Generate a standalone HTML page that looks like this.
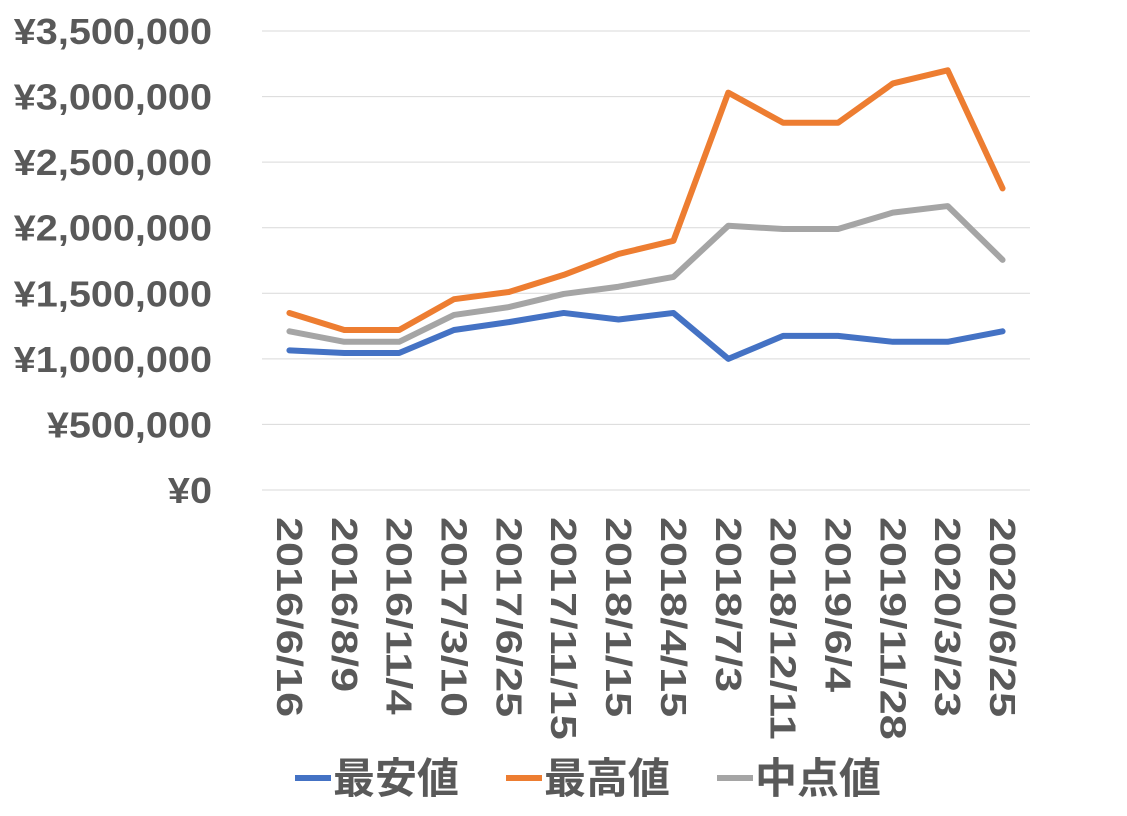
<!DOCTYPE html>
<html><head><meta charset="utf-8"><style>
body{margin:0;background:#fff;}
svg text{font-family:"Liberation Sans","Noto Sans CJK JP",sans-serif;font-weight:bold;fill:#595959;}
</style></head><body>
<svg id="chart" width="1127" height="811" viewBox="0 0 1127 811" xmlns="http://www.w3.org/2000/svg">
<g id="grid"></g><g id="yticks"></g><g id="xticks"></g><g id="lines"></g><g id="legend"></g>
</svg>
<script>
const categories=["2016/6/16","2016/8/9","2016/11/4","2017/3/10","2017/6/25","2017/11/15","2018/1/15","2018/4/15","2018/7/3","2018/12/11","2019/6/4","2019/11/28","2020/3/23","2020/6/25"];
const lowValues=[1065000,1045000,1045000,1220000,1280000,1350000,1300000,1350000,1000000,1175000,1175000,1130000,1130000,1210000];
const highValues=[1350000,1220000,1220000,1455000,1510000,1640000,1800000,1900000,3030000,2800000,2800000,3100000,3200000,2300000];
const midValues=[1210000,1130000,1130000,1335000,1395000,1495000,1550000,1625000,2015000,1990000,1990000,2115000,2165000,1755000];
const yTicks=[0,500000,1000000,1500000,2000000,2500000,3000000,3500000];
const seriesNames=["最安値","最高値","中点値"];
const NS="http://www.w3.org/2000/svg";
const x0=262,x1=1030,yBase=490,yTop=31,yMax=3500000;
const bw=(x1-x0)/categories.length;
const xs=i=>x0+bw*(i+0.5);
const ys=v=>yBase-(v/yMax)*(yBase-yTop);
function mk(t,a,p){const e=document.createElementNS(NS,t);for(const k in a)e.setAttribute(k,a[k]);p.appendChild(e);return e;}
const grid=document.getElementById('grid'),yt=document.getElementById('yticks'),xt=document.getElementById('xticks'),ln=document.getElementById('lines'),lg=document.getElementById('legend');
yTicks.forEach(v=>{
 const l=mk('line',{x1:x0,x2:x1,y1:ys(v),y2:ys(v),stroke:'#d9d9d9','stroke-width':1},grid);
 
 
 const t=mk('text',{x:212,y:ys(v)+13,'text-anchor':'end','font-size':36},yt);
 t.textContent='¥'+v.toLocaleString('en-US');
 
 
 const w=t.getComputedTextLength();
 t.setAttribute('textLength',w*1.1);
 t.setAttribute('lengthAdjust','spacingAndGlyphs');
});
categories.forEach((c,i)=>{
 const t=mk('text',{x:0,y:0,'font-size':36,'dominant-baseline':'central',transform:`translate(${xs(i)},517) rotate(90)`},xt);
 t.textContent=c;
 
 
 const w=t.getComputedTextLength();
 t.setAttribute('textLength',w*1.25);
 t.setAttribute('lengthAdjust','spacingAndGlyphs');
});
const colors=['#4472c4','#ed7d31','#a5a5a5'];
[lowValues,highValues,midValues].forEach((arr,s)=>{
 const p=mk('polyline',{points:arr.map((v,i)=>xs(i)+','+ys(v)).join(' '),fill:'none',stroke:colors[s],'stroke-width':6,'stroke-linejoin':'round','stroke-linecap':'round'},ln);
 
 
});
const lx=[295,506,717];
seriesNames.forEach((n,s)=>{
 const g=mk('g',{},lg);
 
 
 mk('line',{x1:lx[s],x2:lx[s]+36,y1:778,y2:778,stroke:colors[s],'stroke-width':6},g);
 const t=mk('text',{x:lx[s]+38,y:793,'font-size':42},g);
 t.textContent=n;
});
</script>
</body></html>
